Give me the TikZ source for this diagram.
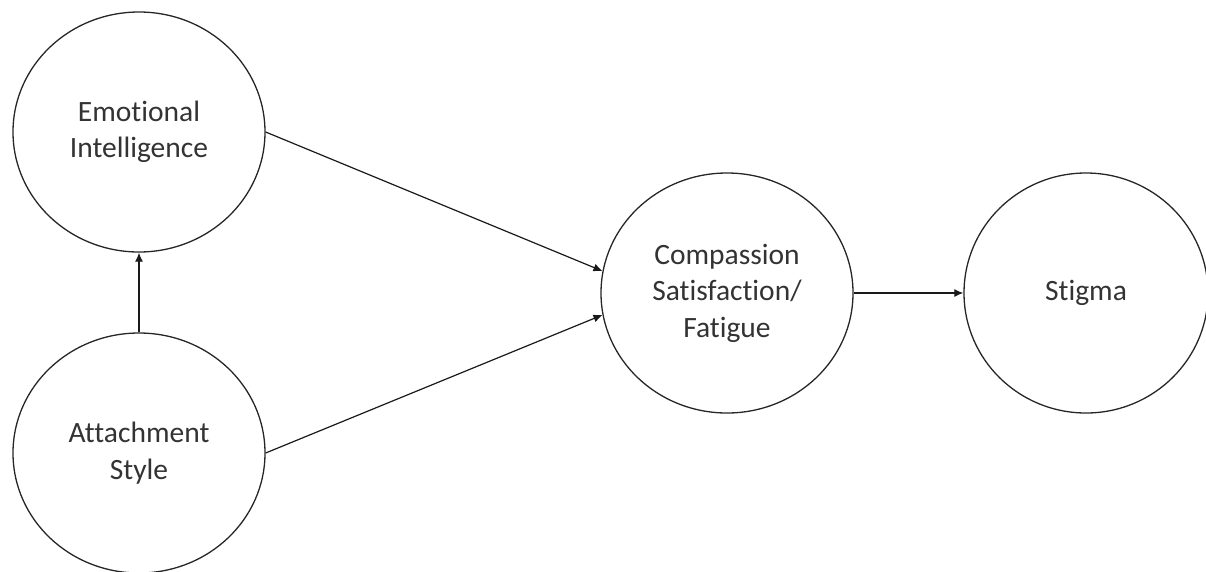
\documentclass[tikz,border=0pt]{standalone}
\usepackage{fontspec}
\setmainfont[Ligatures=NoCommon]{Carlito}
\usetikzlibrary{shapes.geometric,arrows.meta}
\begin{document}
\begin{tikzpicture}[x=1pt,y=-1pt,
  var/.style={draw=black!85, line width=1.3pt, ellipse, minimum width=252pt, minimum height=240pt, inner sep=0pt, align=center, font=\fontsize{29.5}{36.5}\selectfont, text=black!80},
  conn/.style={draw=black!90, line width=1.2pt, -{Latex[length=9pt,width=8pt]}}]
\useasboundingbox (0,0) rectangle (1206,571);
\node[var] (ei) at (139,132) {Emotional\\Intelligence};
\node[var] (as) at (139,453) {Attachment\\Style};
\node[var] (cs) at (727,293) {Compassion\\Satisfaction/\\Fatigue};
\node[var, minimum width=244pt] (st) at (1086,293) {Stigma};
\draw[conn] (as.north) -- (ei.south);
\draw[conn] (ei.east) -- (cs.170);
\draw[conn] (as.east) -- (cs.190);
\draw[conn] (cs.east) -- (st.west);
\end{tikzpicture}
\end{document}
